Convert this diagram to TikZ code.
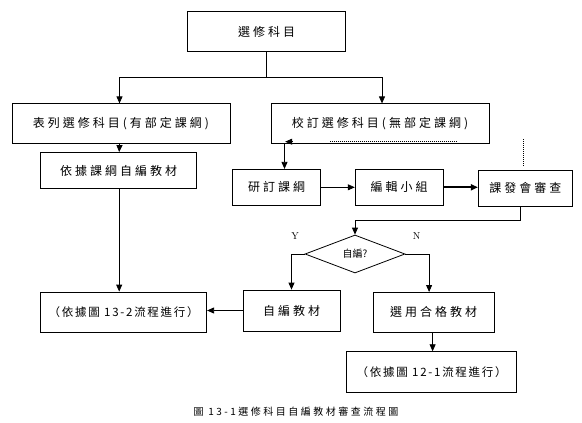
\documentclass[tikz,border=0pt]{standalone}
\usepackage{fontspec}
\usepackage{tikz}
\usetikzlibrary{arrows.meta}
\usetikzlibrary{shapes.geometric}
\newfontfamily\cjk{Noto Sans CJK TC}[LetterSpace=25]
\newfontfamily\cjkn{Noto Sans CJK TC}[LetterSpace=15]
\newfontfamily\cjkp{Noto Sans CJK TC}

\begin{document}
\begin{tikzpicture}[x=1pt,y=-1pt,->,>={Triangle[width=6pt,length=7pt]},
			line width=0.8pt,
			box/.style={draw,rectangle,inner sep=0pt,minimum height=36pt,
				font=\cjk\fontsize{12}{14}\selectfont},
			refbox/.style={box,font=\cjkn\fontsize{11.5}{13}\selectfont},
			dots/.style={-,dash pattern=on 1pt off 1pt}]
			\useasboundingbox (0,0) rectangle (582,423);

			\node[box, minimum width=158pt, minimum height=40pt] (top) at (266.6,31.5) {選修科目};
			\node[box, minimum width=218pt, minimum height=40pt] (lst) at (121,123.8) {表列選修科目(有部定課綱)};
			\node[box, minimum width=218pt, minimum height=40pt] (rev) at (380,123.8) {校訂選修科目(無部定課綱)};
			\node[box, minimum width=156pt] (own) at (118.7,170.5) {依據課綱自編教材};
			\node[box, minimum width=88pt] (draft) at (276.5,187.3) {研訂課綱};
			\node[box, minimum width=88pt] (edit) at (399.2,187.3) {編輯小組};
			\node[box, minimum width=94pt] (check) at (525.3,188.2) {課發會審查};
			\node[draw, diamond, aspect=2.6, inner sep=0pt, minimum width=100pt, minimum height=38pt,
				font=\cjkp\fontsize{10}{12}\selectfont] (dec) at (355,254) {自編?};
			\node[box, minimum width=97pt, minimum height=41pt] (self) at (291.5,310.5) {自編教材};
			\node[box, minimum width=121pt, minimum height=40pt] (pick) at (433.6,312.4) {選用合格教材};
			\node[refbox, minimum width=166pt, minimum height=40pt] (ref132) at (123.7,312) {（依據圖 13-2流程進行）};
			\node[refbox, minimum width=170pt, minimum height=41pt] (ref121) at (431.7,372.2) {（依據圖 12-1流程進行）};
			\node[font=\fontsize{10}{11}\selectfont] (yes) at (295,236) {Y};
			\node[font=\fontsize{10}{11}\selectfont] (no) at (416.7,236) {N};
			\node[font=\cjk\fontsize{10}{12}\selectfont] (cap) at (296,412) {圖 13-1選修科目自編教材審查流程圖};

			\coordinate (split) at (266.6,77.6);
			\coordinate (fbA) at (457,141.7);
			\coordinate (fbB) at (330,141.7);

			% top split
			\draw[-] (top.south) -- (split);
			\draw (split) -| ([xshift=-1.5pt]lst.north);
			\draw (split) -| ([xshift=2pt]rev.north);
			% left column
			\draw ([xshift=-1.5pt]lst.south) -- ([xshift=0.5pt]own.north);
			\draw ([xshift=0.5pt]own.south) -- ([xshift=0.5pt]own.south |- ref132.north);
			% right column
			\draw ([xshift=8pt]draft.north |- rev.south) -- ([xshift=8pt]draft.north);
			\draw (draft) -- (edit);
			\draw[line width=2pt] (edit.east) -- (edit.east -| check.west);
			\draw[dots] ([xshift=-2pt,yshift=4pt]check.north) -- ++(0,-27);
			\draw[dots] (fbA) -- (fbB);
			\draw (292.2,141.7) -- (285.2,141.7);
			% decision
			\draw ([xshift=-4.6pt]check.south) -- ++(0,13.3) -| (dec.north);
			\draw (dec.west) -| (self.north);
			\draw (dec.east) -| ([xshift=-4.5pt]pick.north);
			\draw (self.west) -- (self.west -| ref132.east);
			\draw ([xshift=-1pt]pick.south) -- ([xshift=-1pt]pick.south |- ref121.north);
\end{tikzpicture}
\end{document}
